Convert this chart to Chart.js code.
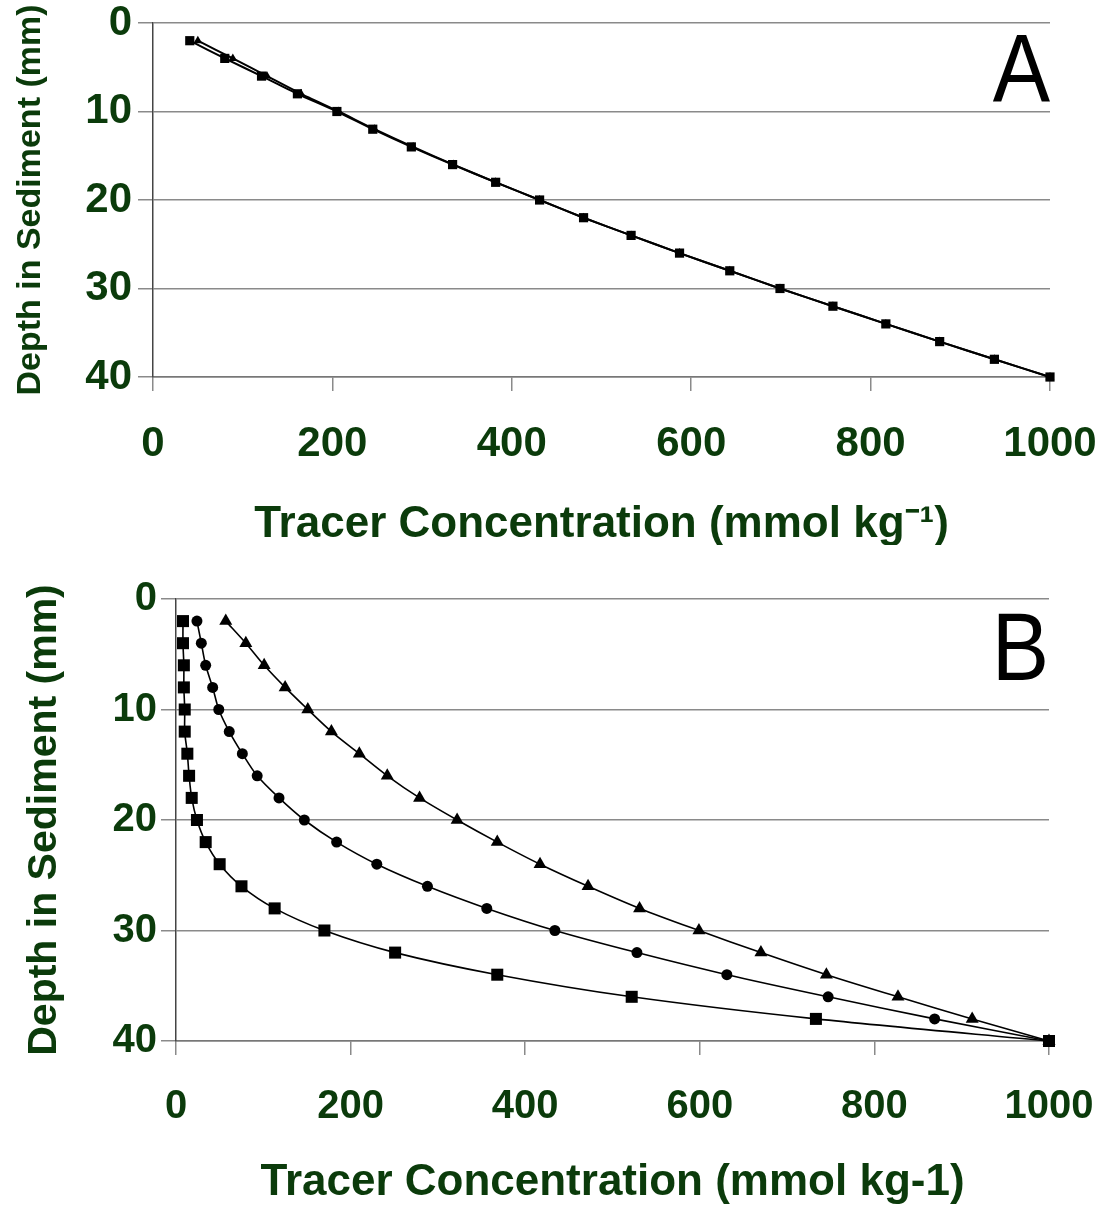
<!DOCTYPE html>
<html>
<head>
<meta charset="utf-8">
<script src="https://cdn.jsdelivr.net/npm/chart.js@4.4.1/dist/chart.umd.min.js"></script>
<style>
  html, body { margin: 0; padding: 0; background: #fff; }
  canvas { display: block; }
</style>
</head>
<body>
<canvas id="chartA" width="1108" height="545"></canvas>
<canvas id="chartB" width="1108" height="666"></canvas>
<script>
// depth of each sample (mm)
const depths = [2, 4, 6, 8, 10, 12, 14, 16, 18, 20, 22, 24, 26, 28, 30, 32, 34, 36, 38, 40];

// panel A - tracer concentration (mmol/kg)
const panelASquares = [41, 80, 121, 161, 205, 245, 288, 334, 382, 431, 480, 533, 587, 643, 699, 758, 817, 877, 938, 1000];
const panelATriangles = [50, 89, 127, 165, 207, 247, 290, 335, 382, 431, 480, 533, 587, 643, 699, 758, 817, 877, 938, 1000];

// panel B
const panelBSquares = [8, 8, 9, 9, 10, 10, 13, 15, 18, 24, 34, 50, 75, 113, 170, 251, 368, 522, 733, 1000];
const panelBCircles = [24, 29, 34, 42, 49, 61, 76, 93, 118, 147, 184, 230, 288, 356, 434, 528, 631, 747, 869, 1000];
const panelBTriangles = [57, 80, 101, 125, 151, 178, 210, 242, 279, 322, 368, 417, 472, 531, 599, 670, 745, 827, 912, 1000];

const concTicks = [0, 200, 400, 600, 800, 1000];
const depthTicks = [0, 10, 20, 30, 40];

const FONT = '"Liberation Sans", Arial, sans-serif';
const GREEN = '#0b3b0b';

const toPoints = (xs) => xs.map((x, i) => ({ x: x, y: depths[i] }));

const panelLetter = {
  id: 'panelLetter',
  afterDraw(chart, args, opts) {
    const { ctx, chartArea } = chart;
    ctx.save();
    ctx.translate(chartArea.right, chartArea.top + opts.offset);
    ctx.scale(1, 1.12);
    ctx.font = opts.size + 'px ' + FONT;
    ctx.fillStyle = '#000';
    ctx.textAlign = 'right';
    ctx.textBaseline = 'alphabetic';
    ctx.fillText(opts.text, 0, 0);
    ctx.restore();
  }
};

function series(values, style, radius, smooth, width) {
  return {
    data: toPoints(values),
    showLine: true,
    borderColor: '#000',
    backgroundColor: '#000',
    borderWidth: width,
    pointStyle: style,
    pointRadius: radius,
    pointBorderWidth: 0,
    tension: smooth,
    clip: false
  };
}

function makePanel(id, p) {
  new Chart(document.getElementById(id), {
    type: 'scatter',
    data: { datasets: p.datasets },
    options: {
      responsive: false,
      animation: false,
      layout: { padding: { top: p.top, right: p.right, left: 0, bottom: 0 } },
      plugins: {
        legend: { display: false },
        tooltip: { enabled: false },
        panelLetter: { text: p.letter, size: 86, offset: p.letterOffset }
      },
      scales: {
        x: {
          type: 'linear',
          min: 0,
          max: 1000,
          afterBuildTicks: (s) => { s.ticks = concTicks.map(v => ({ value: v })); },
          afterFit: (s) => { s.height = p.xHeight; s.paddingLeft = 0; s.paddingRight = 0; },
          grid: { drawOnChartArea: false, drawTicks: true, tickLength: 14, color: '#8a8a8a', lineWidth: 1.5 },
          border: { display: true, color: '#777', width: 1.5 },
          ticks: { color: GREEN, font: { family: FONT, size: p.tickSize, weight: 'bold' }, padding: p.xTickPad, maxRotation: 0, callback: (v) => String(v) },
          title: { display: true, text: p.xTitle, color: GREEN, font: { family: FONT, size: p.xTitleSize, weight: 'bold' }, padding: { top: 0, bottom: p.xTitlePad } }
        },
        y: {
          type: 'linear',
          reverse: true,
          min: 0,
          max: 40,
          afterBuildTicks: (s) => { s.ticks = depthTicks.map(v => ({ value: v })); },
          afterFit: (s) => { s.width = p.yWidth; s.paddingTop = 0; s.paddingBottom = 0; },
          grid: { drawOnChartArea: true, drawTicks: true, tickLength: 15, color: '#8a8a8a', lineWidth: 1.5 },
          border: { display: true, color: '#444', width: 1.5 },
          ticks: { color: GREEN, font: { family: FONT, size: p.tickSize, weight: 'bold' }, padding: p.yTickPad, callback: (v) => String(v) },
          title: { display: true, text: 'Depth in Sediment (mm)', color: GREEN, font: { family: FONT, size: p.yTitleSize, weight: 'bold' }, padding: { top: p.yTitlePad, bottom: 0 } }
        }
      }
    },
    plugins: [panelLetter]
  });
}

makePanel('chartA', {
  datasets: [
    series(panelATriangles, 'triangle', 5, 0.2, 2),
    series(panelASquares, 'rect', 6.5, 0.2, 2)
  ],
  letter: 'A',
  letterOffset: 78,
  top: 23,
  right: 58,
  yWidth: 153,
  xHeight: 168,
  tickSize: 42,
  xTickPad: 28,
  yTickPad: 6,
  xTitle: 'Tracer Concentration (mmol kg\u207B\u00B9)',
  xTitleSize: 44,
  xTitlePad: -6,
  yTitleSize: 34,
  yTitlePad: 10
});

makePanel('chartB', {
  datasets: [
    series(panelBTriangles, 'triangle', 7.5, 0.3, 1.6),
    series(panelBCircles, 'circle', 5.5, 0.3, 1.6),
    series(panelBSquares, 'rect', 8.5, 0.3, 1.6)
  ],
  letter: 'B',
  letterOffset: 81,
  top: 54,
  right: 59,
  yWidth: 176,
  xHeight: 170,
  tickSize: 40,
  xTickPad: 28,
  yTickPad: 4,
  xTitle: 'Tracer Concentration (mmol kg-1)',
  xTitleSize: 44,
  xTitlePad: 2,
  yTitleSize: 41,
  yTitlePad: 20
});
</script>
</body>
</html>
